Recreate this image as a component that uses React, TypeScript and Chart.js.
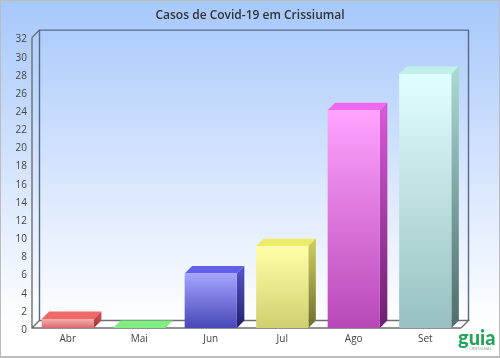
import React, { useEffect, useRef } from "react";
import { Chart, registerables } from "chart.js";

Chart.register(...registerables);

const categories = ["Abr", "Mai", "Jun", "Jul", "Ago", "Set"];
const casos = [1, 0, 6, 9, 24, 28];
const frontTop = ["#f8b0b0", "#90f090", "#a4a4ff", "#ffffa8", "#ffa4ff", "#e2ffff"];
const frontBottom = ["#d86868", "#58c058", "#4848b8", "#d0d070", "#b848b8", "#98c0c0"];
const topFace = ["#f06868", "#80ee80", "#6060ea", "#ecec68", "#f068f0", "#c0f0e8"];
const sideTop = ["#c04c4c", "#48a048", "#5050c0", "#c8c858", "#d858d8", "#a8d8d0"];
const sideBottom = ["#8c3232", "#308030", "#20206a", "#6e6e30", "#6c2070", "#4e6c6c"];
const DEPTH = 7.5;

const poly = (ctx: CanvasRenderingContext2D, pts: number[][], fill?: any, stroke?: string) => {
  ctx.beginPath();
  pts.forEach((p, i) => (i ? ctx.lineTo(p[0], p[1]) : ctx.moveTo(p[0], p[1])));
  ctx.closePath();
  if (fill) { ctx.fillStyle = fill; ctx.fill(); }
  if (stroke) { ctx.strokeStyle = stroke; ctx.lineWidth = 1; ctx.stroke(); }
};

const frame3d = {
  id: "frame3d",
  beforeDraw(chart: any) {
    const { ctx, width, height } = chart;
    const g = ctx.createLinearGradient(0, 0, 0, 325);
    g.addColorStop(0, "#a6c8fb");
    g.addColorStop(0.55, "#d8e6fd");
    g.addColorStop(1, "#ffffff");
    ctx.save();
    ctx.fillStyle = g;
    ctx.fillRect(0, 0, width, height);
    ctx.strokeStyle = "#bcbcbc";
    ctx.lineWidth = 2;
    ctx.strokeRect(0, 0, width, height - 1);
    ctx.restore();
  },
  beforeDatasetsDraw(chart: any) {
    const { ctx, chartArea: a } = chart;
    const d = DEPTH;
    ctx.save();
    ctx.lineWidth = 1.4;
    poly(ctx, [[a.left, a.bottom], [a.left + d, a.bottom - d], [a.right + d, a.bottom - d], [a.right, a.bottom]], "#ffffff");
    ctx.strokeStyle = "#6f6f6f";
    ctx.beginPath();
    ctx.moveTo(a.left, a.top); ctx.lineTo(a.left, a.bottom); ctx.lineTo(a.right, a.bottom);
    ctx.moveTo(a.left, a.bottom); ctx.lineTo(a.left + d, a.bottom - d); ctx.lineTo(a.right + d, a.bottom - d);
    ctx.lineTo(a.right, a.bottom);
    ctx.moveTo(a.left, a.top); ctx.lineTo(a.left + d, a.top - d);
    ctx.stroke();
    ctx.strokeStyle = "#566a88";
    ctx.beginPath();
    ctx.moveTo(a.left + d, a.bottom - d); ctx.lineTo(a.left + d, a.top - d);
    ctx.lineTo(a.right + d, a.top - d); ctx.lineTo(a.right + d, a.bottom - d);
    ctx.stroke();
    const meta = chart.getDatasetMeta(0);
    meta.data.forEach((bar: any, i: number) => {
      const l = bar.x - bar.width / 2, r = bar.x + bar.width / 2;
      const t = bar.y, b = bar.base;
      poly(ctx, [[l, t], [l + d, t - d], [r + d, t - d], [r, t]], topFace[i]);
      if (b - t > 0.5) {
        const sg = ctx.createLinearGradient(0, t, 0, b);
        sg.addColorStop(0, sideTop[i]);
        sg.addColorStop(1, sideBottom[i]);
        poly(ctx, [[r, t], [r + d, t - d], [r + d, b - d], [r, b]], sg);
      }
    });
    ctx.restore();
  },
  afterDraw(chart: any) {
    const { ctx } = chart;
    ctx.save();
    ctx.fillStyle = "#22a45c";
    ctx.textAlign = "left";
    ctx.textBaseline = "alphabetic";
    ctx.font = "900 20px Lato";
    ctx.fillText("guia", 458, 345);
    ctx.fillStyle = "#8a9a90";
    ctx.font = "4px 'Open Sans'";
    ctx.fillText("CRISSIUMAL", 469, 350);
    ctx.restore();
  },
};

export default function App() {
  const ref = useRef<HTMLCanvasElement>(null);
  useEffect(() => {
    const chart = new Chart(ref.current!, {
      type: "bar",
      data: {
        labels: categories,
        datasets: [{
          data: casos,
          barPercentage: 0.73,
          categoryPercentage: 1,
          borderWidth: 0,
          backgroundColor: (c: any) => {
            const { chart: ch, dataIndex: i } = c;
            if (i === undefined || !ch.chartArea) return "#ccc";
            const y = ch.scales.y;
            const g = ch.ctx.createLinearGradient(0, y.getPixelForValue(casos[i]), 0, y.getPixelForValue(0));
            g.addColorStop(0, frontTop[i]);
            g.addColorStop(1, frontBottom[i]);
            return g;
          },
        }],
      },
      options: {
        responsive: false,
        animation: false,
        layout: { padding: 0 },
        plugins: {
          legend: { display: false },
          tooltip: { enabled: false },
          title: {
            display: true,
            text: "Casos de Covid-19 em Crissiumal",
            color: "#333333",
            font: { family: "'Open Sans'", size: 12, weight: 600 },
            padding: { top: 8, bottom: 15.2 },
          },
        },
        scales: {
          x: {
            grid: { display: false, drawTicks: false },
            border: { display: false },
            ticks: { color: "#444444", font: { family: "'Open Sans'", size: 10 }, padding: 5 },
            afterFit: (s: any) => { s.height = 30; },
          },
          y: {
            min: 0,
            max: 32,
            grid: { display: false, drawTicks: false },
            border: { display: false },
            ticks: { stepSize: 2, autoSkip: false, labelOffset: 2, color: "#444444", font: { family: "'Open Sans'", size: 10 }, padding: 5 },
            afterFit: (s: any) => { s.width = 32; },
          },
          spacer: {
            position: "right",
            grid: { display: false, drawTicks: false },
            border: { display: false },
            ticks: { display: false },
            afterFit: (s: any) => { s.width = 39; },
          },
        },
      },
      plugins: [frame3d],
    } as any);
    return () => chart.destroy();
  }, []);
  return (
    <canvas
      ref={ref}
      width={500}
      height={358}
      style={{ position: "absolute", left: 0, top: 0, display: "block" }}
    />
  );
}
